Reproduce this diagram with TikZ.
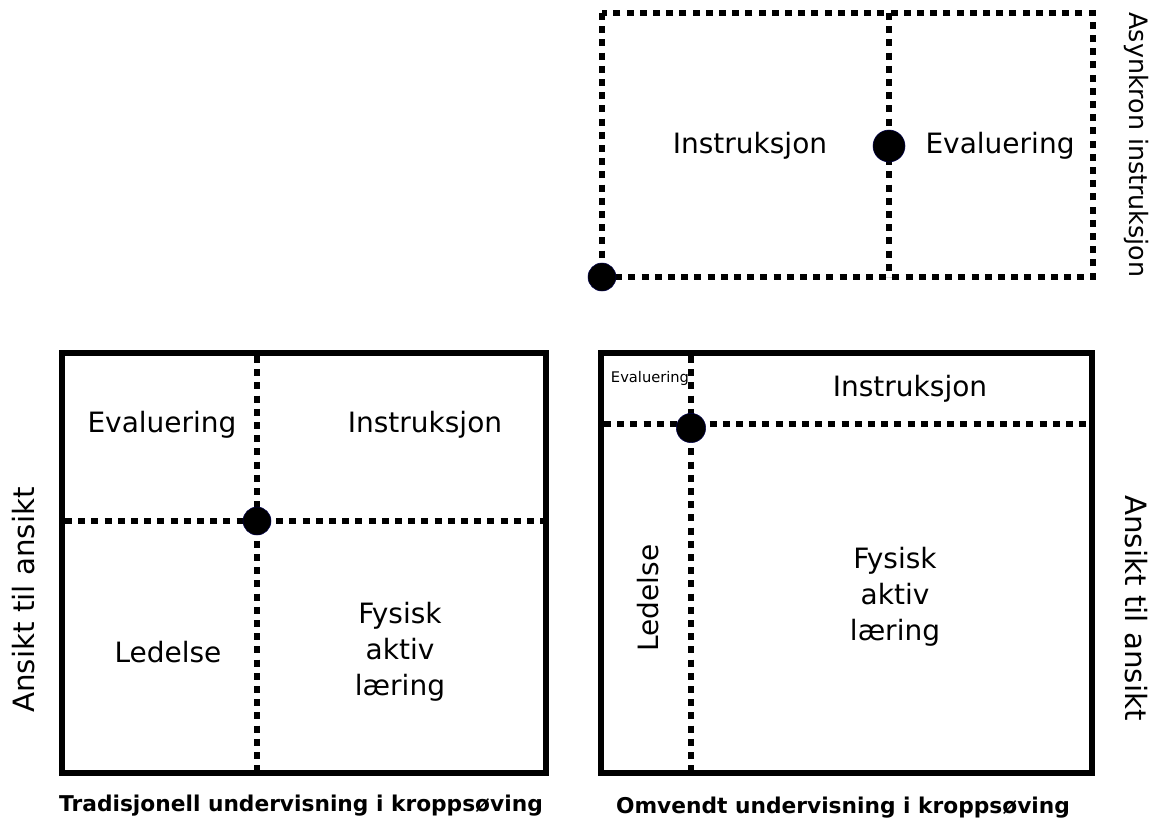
\documentclass[tikz,border=0pt]{standalone}
\usepackage{fontspec}
\setmainfont{DejaVu Sans}
\usetikzlibrary{positioning}

\begin{document}
\begin{tikzpicture}[x=0.75pt,y=-0.75pt,
  frame/.style={line width=4.3pt},
  dotline/.style={line width=4.9pt,dash pattern=on 5.2pt off 4.7pt},
  dot/.style={circle,fill=black,draw=blue!30!black,line width=0.4pt,inner sep=0pt,minimum size=#1},
  lbl/.style={font=\fontsize{21}{27}\selectfont,align=center},
  sidelbl/.style={font=\fontsize{22}{27}\selectfont},
  caption/.style={font=\fontsize{16.3}{20}\selectfont\bfseries}]
\useasboundingbox (0,0) rectangle (1150,821);

% Asynkron del
\coordinate (a1) at (602,13);
\coordinate (a3) at (1093,277);
\coordinate (am) at (889,13);
\coordinate (amb) at (889,277);
\draw[dotline] (a1) rectangle (a3);
\draw[dotline] (am) -- (amb);
\node[dot=21pt] (d0) at (602,277) {};
\node[dot=24pt] (d1) at (889,146) {};
\node[lbl] (ains) at (750,146) {Instruksjon};
\node[lbl] (aeva) at (1000,146) {Evaluering};
\node[sidelbl,font=\fontsize{19}{23}\selectfont,rotate=-90] (async) at (1136,145) {Asynkron instruksjon};

% Tradisjonell
\coordinate (t1) at (62,353);
\coordinate (t3) at (546,773);
\coordinate (tv1) at (257,356);
\coordinate (tv2) at (257,770);
\coordinate (th1) at (65,521);
\coordinate (th2) at (543,521);
\draw[dotline] (tv1) -- (tv2);
\draw[dotline] (th1) -- (th2);
\draw[frame] (t1) rectangle (t3);
\node[dot=21pt] (d2) at (257,521) {};
\node[lbl] (teva) at (162,425) {Evaluering};
\node[lbl] (tins) at (425,425) {Instruksjon};
\node[lbl] (tled) at (168,652) {Ledelse};
\node[lbl] (tfys) at (400,652) {Fysisk\\aktiv\\læring};
\node[sidelbl,rotate=90] (tans) at (24,600) {Ansikt til ansikt};
\node[caption] (tcap) at (301,806) {Tradisjonell undervisning i kroppsøving};

% Omvendt
\coordinate (o1) at (601,353);
\coordinate (o3) at (1092,773);
\coordinate (ov1) at (691,356);
\coordinate (ov2) at (691,770);
\coordinate (oh1) at (604,424);
\coordinate (oh2) at (1089,424);
\draw[dotline] (ov1) -- (ov2);
\draw[dotline] (oh1) -- (oh2);
\draw[frame] (o1) rectangle (o3);
\node[dot=22pt] (d3) at (691,428) {};
\node[font=\fontsize{11}{13}\selectfont] (oeva) at (650,378) {Evaluering};
\node[lbl] (oins) at (910,389) {Instruksjon};
\node[lbl,rotate=90] (oled) at (648,598) {Ledelse};
\node[lbl] (ofys) at (895,597) {Fysisk\\aktiv\\læring};
\node[sidelbl,rotate=-90] (oans) at (1136,608) {Ansikt til ansikt};
\node[caption] (ocap) at (843,808) {Omvendt undervisning i kroppsøving};
\end{tikzpicture}
\end{document}
